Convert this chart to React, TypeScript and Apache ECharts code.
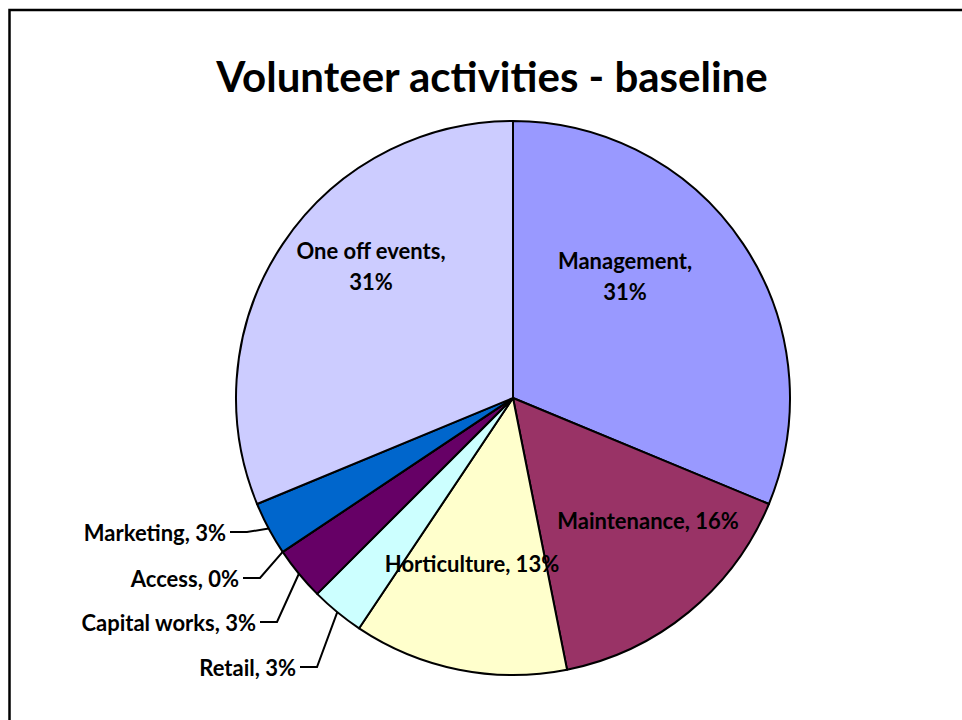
import React, { useEffect, useRef } from "react";
import * as echarts from "echarts";

const categories = [
  "Management",
  "Maintenance",
  "Horticulture",
  "Retail",
  "Capital works",
  "Access",
  "Marketing",
  "One off events",
];
const values = [10, 5, 4, 1, 1, 0, 1, 10];
const colors = ["#9999FF", "#993366", "#FFFFCC", "#CCFFFF", "#660066", "#FF8080", "#0066CC", "#CCCCFF"];
const titleText = "Volunteer activities - baseline";

const CX = 513;
const CY = 398;
const R = 277;
const FONT = "Lato";

type Anchor = { x: number; y: number; align: "center" | "right"; wrap?: boolean; outside?: boolean };
const labelAnchors: Record<string, Anchor> = {
  Management: { x: 625, y: 276, align: "center", wrap: true },
  Maintenance: { x: 648, y: 520, align: "center" },
  Horticulture: { x: 472, y: 563, align: "center" },
  Retail: { x: 296, y: 667, align: "right", outside: true },
  "Capital works": { x: 256, y: 622, align: "right", outside: true },
  Access: { x: 239, y: 578, align: "right", outside: true },
  Marketing: { x: 226, y: 532, align: "right", outside: true },
  "One off events": { x: 371, y: 266, align: "center", wrap: true },
};

function arcPoint(idx: number): [number, number] {
  const total = values.reduce((a, b) => a + b, 0);
  let cum = 0;
  for (let i = 0; i < idx; i++) cum += values[i];
  const a = ((cum + values[idx] / 2) / total) * Math.PI * 2;
  return [CX + R * Math.sin(a), CY - R * Math.cos(a)];
}

export default function App() {
  const ref = useRef<HTMLDivElement>(null);
  useEffect(() => {
    document.body.style.margin = "0";
    if (!ref.current) return;
    const chart = echarts.init(ref.current, undefined, { renderer: "svg" });
    const data = categories.map((name, i) => {
      const anc = labelAnchors[name];
      return {
        name,
        value: values[i],
        itemStyle: { color: colors[i] },
        label: { position: anc.outside ? "outside" : "inside" },
        labelLine: { show: !!anc.outside },
      };
    });
    chart.setOption({
      animation: false,
      backgroundColor: "#ffffff",
      graphic: [
        {
          type: "rect",
          z: 0,
          shape: { x: 9.5, y: 10, width: 1000, height: 800 },
          style: { fill: "none", stroke: "#000", lineWidth: 2.5 },
        },
        {
          type: "text",
          x: 492,
          y: 76,
          style: {
            text: titleText,
            fontFamily: FONT,
            fontWeight: "bold",
            fontSize: 42,
            fill: "#000",
            align: "center",
            verticalAlign: "middle",
          },
        },
      ],
      series: [
        {
          type: "pie",
          center: [CX, CY],
          radius: R,
          startAngle: 90,
          clockwise: true,
          avoidLabelOverlap: false,
          itemStyle: { borderColor: "#000", borderWidth: 2 },
          emphasis: { disabled: true },
          label: {
            color: "#000",
            fontFamily: FONT,
            fontWeight: "bold",
            fontSize: 22,
            lineHeight: 31,
            textBorderWidth: 0,
            formatter: (p: any) => {
              const anc = labelAnchors[p.name];
              const pct = Math.round(p.percent) + "%";
              return anc && anc.wrap ? `${p.name},\n${pct}` : `${p.name}, ${pct}`;
            },
          },
          labelLine: {
            lineStyle: { color: "#000", width: 2 },
            smooth: false,
          },
          labelLayout: (params: any) => {
            const name = categories[params.dataIndex];
            const anc = labelAnchors[name];
            const res: any = { x: anc.x, y: anc.y, align: anc.align, verticalAlign: "middle" };
            if (anc.outside) {
              const p0 = arcPoint(params.dataIndex);
              res.labelLinePoints = [p0, [anc.x + 21, anc.y], [anc.x + 4, anc.y]];
            }
            return res;
          },
          data,
        },
      ],
    });
    return () => chart.dispose();
  }, []);
  return <div ref={ref} style={{ width: 962, height: 720 }} />;
}
